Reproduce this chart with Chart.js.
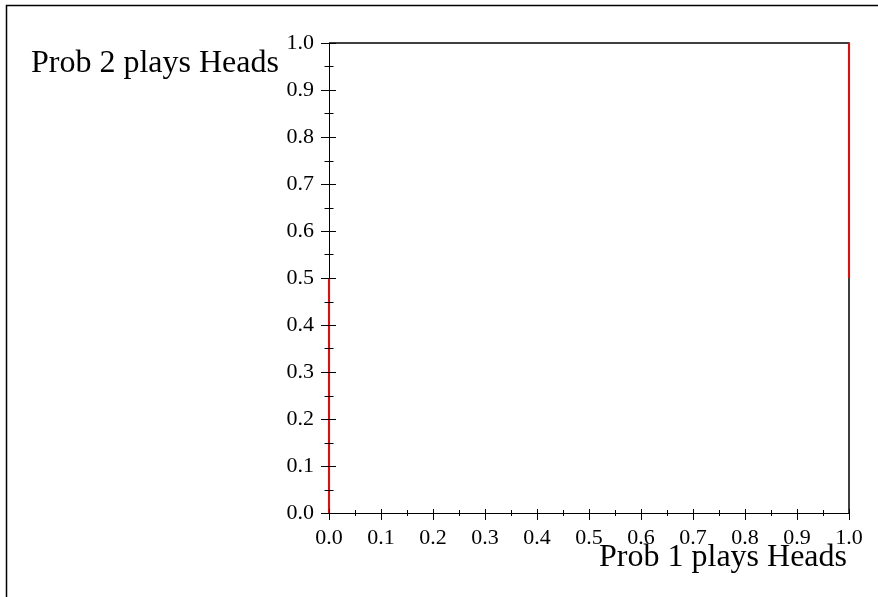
<!DOCTYPE html>
<html>
<head>
<meta charset="utf-8">
<script src="https://cdn.jsdelivr.net/npm/chart.js@4.4.1/dist/chart.umd.min.js"></script>
<style>
    body { margin: 0; background: #ffffff; }
    #contenedor { width: 878px; height: 597px; position: relative; }
</style>
</head>
<body>
<div id="contenedor"><canvas id="grafico"></canvas></div>
<script>
// Datos
const rojoX = [0, 0, null, 1, 1];
const rojoY = [0, 0.5, null, 0.5, 1];
const negroX = [0, 1, 1];
const negroY = [1, 1, 0];

const tituloX = 'Prob 1 plays Heads';
const tituloY = 'Prob 2 plays Heads';
const ejeMin = 0;
const ejeMax = 1;
const paso = 0.1;

const fuente = '"Liberation Serif", "Times New Roman", serif';

function aPuntos(xs, ys) {
    return xs.map((x, i) => (x === null ? { x: null, y: null } : { x: x, y: ys[i] }));
}

// Marco, marcas que cruzan los ejes y títulos
const decoracion = {
    id: 'decoracion',
    beforeDraw(chart) {
        const ctx = chart.ctx;
        ctx.save();
        ctx.strokeStyle = '#000';
        ctx.lineWidth = 1.5;
        ctx.beginPath();
        ctx.moveTo(6.5, chart.height + 2);
        ctx.lineTo(6.5, 5.5);
        ctx.lineTo(chart.width + 2, 5.5);
        ctx.stroke();
        ctx.restore();
    },
    afterDraw(chart) {
        const ctx = chart.ctx;
        const sx = chart.scales.x;
        const sy = chart.scales.y;
        const x0 = sx.getPixelForValue(0);
        const y0 = sy.getPixelForValue(0);
        ctx.save();
        ctx.strokeStyle = '#000';
        ctx.lineWidth = 1;
        ctx.beginPath();
        for (let i = 0; i <= 20; i++) {
            const v = i * paso / 2;
            const mayor = i % 2 === 0;
            // eje x
            const px = Math.round(sx.getPixelForValue(v)) + 0.5;
            ctx.moveTo(px, y0 - (mayor ? 4 : 3));
            ctx.lineTo(px, y0 + (mayor ? 7 : 3));
            // eje y
            const py = Math.round(sy.getPixelForValue(v)) + 0.5;
            ctx.moveTo(x0 - (mayor ? 8 : 4.5), py);
            ctx.lineTo(x0 + (mayor ? 7 : 4.5), py);
        }
        ctx.stroke();

        ctx.fillStyle = '#000';
        ctx.font = '32px ' + fuente;
        ctx.textBaseline = 'alphabetic';
        ctx.textAlign = 'left';
        ctx.fillText(tituloY, 31, 72);
        ctx.textAlign = 'right';
        ctx.fillText(tituloX, 847, 566);
        ctx.restore();
    }
};

const ctx = document.getElementById('grafico');
const chart = new Chart(ctx, {
    type: 'scatter',
    data: {
        datasets: [
            {
                label: 'rojo',
                data: aPuntos(rojoX, rojoY),
                showLine: true,
                spanGaps: false,
                borderColor: '#ff0000',
                borderWidth: 2,
                pointRadius: 0,
                clip: false
            },
            {
                label: 'negro',
                data: aPuntos(negroX, negroY),
                showLine: true,
                borderColor: '#000000',
                borderWidth: 1.5,
                pointRadius: 0,
                clip: false
            }
        ]
    },
    options: {
        responsive: true,
        maintainAspectRatio: false,
        animation: false,
        layout: { padding: { left: 0, top: 43, right: 29, bottom: 0 } },
        plugins: {
            legend: { display: false },
            tooltip: { enabled: false }
        },
        scales: {
            x: {
                type: 'linear',
                min: ejeMin,
                max: ejeMax,
                afterFit: (escala) => { escala.height = 84; },
                grid: { display: false, drawTicks: false },
                border: { display: true, color: '#000', width: 1 },
                ticks: {
                    stepSize: paso,
                    padding: 12,
                    color: '#000',
                    font: { family: fuente, size: 22 },
                    maxRotation: 0,
                    autoSkip: false,
                    callback: (v) => Number(v).toFixed(1)
                }
            },
            y: {
                type: 'linear',
                min: ejeMin,
                max: ejeMax,
                afterFit: (escala) => { escala.width = 329; },
                grid: { display: false, drawTicks: false },
                border: { display: true, color: '#000', width: 1 },
                ticks: {
                    stepSize: paso,
                    padding: 15,
                    color: '#000',
                    font: { family: fuente, size: 22 },
                    autoSkip: false,
                    callback: (v) => Number(v).toFixed(1)
                }
            }
        }
    },
    plugins: [decoracion]
});
</script>
</body>
</html>
